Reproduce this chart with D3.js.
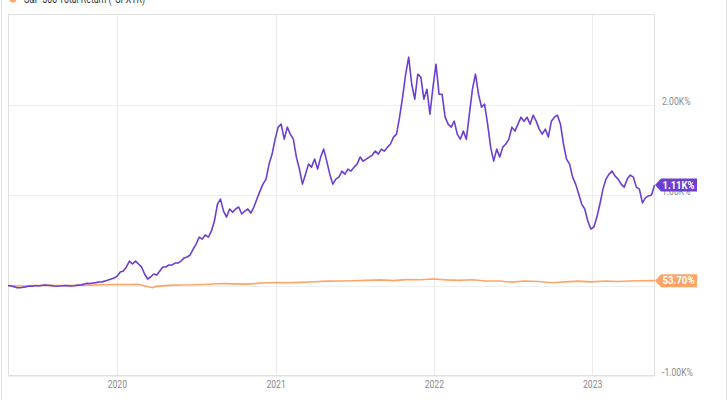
<!DOCTYPE html>
<html><head><meta charset="utf-8">
<script src="https://cdn.jsdelivr.net/npm/d3@7"></script>
<style>body{margin:0;background:#fff}svg{display:block;font-family:Roboto,"Noto Sans",sans-serif}</style>
</head><body><svg id="c" width="728" height="400"></svg>
<script>
const seriesNames = ["TSLA Total Return", "S&P 500 Total Return (^SPXTR)"];
const seriesColors = ["#6b3fd1", "#ffa466"];
// weekly cumulative total return (%) of the purple series, from the start date
const purpleStart = "2019-04-25";
const purpleValues = [
0,-5,-15,-25,-25,-20,-15,-5,-8,0,
-5,0,5,3,0,-5,-8,-6,-2,0,-4,
-6,-2,4,6,15,25,22,28,32,38,
40,50,60,72,82,105,150,160,205,270,
237,270,237,205,127,72,94,127,116,160,
205,205,226,226,248,248,270,305,315,337,
403,458,535,513,558,535,600,712,900,955,
822,756,845,811,845,867,790,822,845,800,
867,955,1043,1120,1176,1341,1452,1617,1750,1783,
1617,1750,1672,1617,1419,1286,1120,1230,1341,1308,
1397,1286,1419,1507,1374,1230,1120,1176,1198,1264,
1230,1286,1264,1308,1341,1419,1374,1397,1419,1441,
1485,1452,1507,1485,1529,1563,1640,1672,1860,2081,
2335,2523,2224,2059,2335,2302,2059,2169,1893,2191,
2445,2114,2114,1860,1783,1750,1816,1672,1617,1706,
1617,1893,2169,2335,2114,1970,2004,1783,1529,1374,
1507,1419,1529,1563,1617,1750,1706,1783,1860,1816,
1860,1783,1882,1816,1728,1672,1728,1640,1816,1860,
1882,1783,1563,1397,1341,1198,1120,1010,900,
845,712,624,646,756,900,1065,1176,1230,1264,
1209,1176,1120,1087,1176,1220,1198,1087,1065,913,
968,990,1000,1110];
// S&P 500 total return (%)
const spxDates = ["2019-04-25","2019-05-31","2019-06-28","2019-07-31","2019-08-30","2019-09-30","2019-10-31","2019-11-29","2019-12-31",
"2020-01-31","2020-02-19","2020-02-28","2020-03-23","2020-03-31","2020-04-30","2020-05-29","2020-06-30","2020-07-31","2020-08-31","2020-09-30","2020-10-30","2020-11-30","2020-12-31",
"2021-01-29","2021-02-26","2021-03-31","2021-04-30","2021-05-28","2021-06-30","2021-07-30","2021-08-31","2021-09-30","2021-10-29","2021-11-30","2021-12-31",
"2022-01-31","2022-02-28","2022-03-31","2022-04-29","2022-05-31","2022-06-30","2022-07-29","2022-08-31","2022-09-30","2022-10-31","2022-11-30","2022-12-30",
"2023-01-31","2023-02-28","2023-03-31","2023-04-28","2023-05-26"];
const spxValues = [0,-6,0.5,2,0,2,4.5,8.3,11.5,
11.4,14,2.6,-25,-10,1.5,6.3,8.4,14.5,22.7,18,15,28,32.5,
31,35,41,48.5,49.5,53,57,62,54,64.5,63,71,
62,57,64,49.5,50,37,49.5,43.5,30,40.5,48.5,40,
49,45,50.5,52.8,53.7];
const yTicks = [-1000, 0, 1000, 2000];
const yTickLabels = ["-1.00K%", "0.00%", "1.00K%", "2.00K%"];
const xTicks = ["2020-01-01", "2021-01-01", "2022-01-01", "2023-01-01"];
const xTickLabels = ["2020", "2021", "2022", "2023"];
const lastLabels = ["1.11K%", "53.70%"];

const parse = d3.utcParse("%Y-%m-%d");
const t0 = parse(purpleStart);
const purple = purpleValues.map((v, i) => ({d: d3.utcDay.offset(t0, i * 7), v}));
const spx = spxDates.map((d, i) => ({d: parse(d), v: spxValues[i]}));

const L = 8, R = 655, T = 14, B = 376;
const x = d3.scaleUtc().domain([parse("2019-04-25"), parse("2023-05-26")]).range([L, R]);
const y = d3.scaleLinear().domain([-1000, 3000]).range([B, T]);

const svg = d3.select("#c");
// outer container border
svg.append("rect").attr("x", 1.5).attr("y", -60).attr("width", 725).attr("height", 520)
  .attr("fill", "none").attr("stroke", "#e3e3e3");

// legend (partly cut off at the top)
svg.append("circle").attr("cx", 13).attr("cy", -1).attr("r", 3.5).attr("fill", seriesColors[1]);
svg.append("text").attr("x", 24).attr("y", 3).attr("font-size", 12).attr("fill", "#333")
  .attr("textLength", 121).attr("lengthAdjust", "spacingAndGlyphs").text(seriesNames[1]);

// gridlines
const g = svg.append("g");
g.selectAll("line.h").data(yTicks.concat([3000])).join("line")
  .attr("x1", L).attr("x2", R).attr("y1", d => Math.round(y(d)) + 0.5).attr("y2", d => Math.round(y(d)) + 0.5)
  .attr("stroke", "#efefef");
g.selectAll("line.v").data(xTicks).join("line")
  .attr("x1", d => Math.round(x(parse(d))) + 0.5).attr("x2", d => Math.round(x(parse(d))) + 0.5)
  .attr("y1", T).attr("y2", B).attr("stroke", "#ececec");

// frame
svg.append("rect").attr("x", L + 0.5).attr("y", T + 0.5).attr("width", R - L - 1).attr("height", 361)
  .attr("fill", "none").attr("stroke", "#e0e0e0");

// axes
const yAxis = d3.axisRight(y).tickValues(yTicks).tickFormat((d, i) => yTickLabels[i]).tickSize(0).tickPadding(7);
const ya = svg.append("g").attr("transform", `translate(${R},0)`).call(yAxis);
ya.select(".domain").remove();
ya.selectAll("text").attr("font-size", 10).attr("fill", "#8a8a8a").attr("font-family", "Roboto")
  .attr("dy", "-0.05em").attr("textLength", function(){ return this.getComputedTextLength() * 0.86; })
  .attr("lengthAdjust", "spacingAndGlyphs");

const xAxis = d3.axisBottom(x).tickValues(xTicks.map(parse)).tickFormat((d, i) => xTickLabels[i]).tickSize(0).tickPadding(6);
const xa = svg.append("g").attr("transform", `translate(0,${B - 1})`).call(xAxis);
xa.select(".domain").remove();
xa.selectAll("text").attr("font-size", 10).attr("fill", "#8a8a8a").attr("font-family", "Roboto")
  .attr("textLength", function(){ return this.getComputedTextLength() * 0.86; })
  .attr("lengthAdjust", "spacingAndGlyphs");

// lines
svg.append("clipPath").attr("id", "clip").append("rect").attr("x", L).attr("y", T).attr("width", R - L).attr("height", B - T);
const line = d3.line().x(d => x(d.d)).y(d => y(d.v));
const lg = svg.append("g").attr("clip-path", "url(#clip)");
lg.append("path").datum(spx).attr("d", line).attr("fill", "none").attr("stroke", seriesColors[1]).attr("stroke-width", 1.6);
lg.append("path").datum(purple).attr("d", line).attr("fill", "none").attr("stroke", seriesColors[0]).attr("stroke-width", 1.6).attr("stroke-linejoin", "round");

// last-value tags
const lasts = [purple[purple.length - 1], spx[spx.length - 1]];
lasts.forEach((p, i) => {
  const cy = y(p.v), x0 = R, w = 42, h = 13;
  const tg = svg.append("g");
  tg.append("path")
    .attr("d", `M${x0},${cy} L${x0 + 6},${cy - h / 2} L${x0 + w},${cy - h / 2} L${x0 + w},${cy + h / 2} L${x0 + 6},${cy + h / 2} Z`)
    .attr("fill", seriesColors[i]);
  const tx = tg.append("text").attr("x", x0 + 7.5).attr("y", cy + 3.8).attr("font-size", 11).attr("font-weight", "bold")
    .attr("fill", "#fff").attr("font-family", "Roboto").text(lastLabels[i]);
  tx.attr("textLength", 32).attr("lengthAdjust", "spacingAndGlyphs");
});
</script></body></html>
